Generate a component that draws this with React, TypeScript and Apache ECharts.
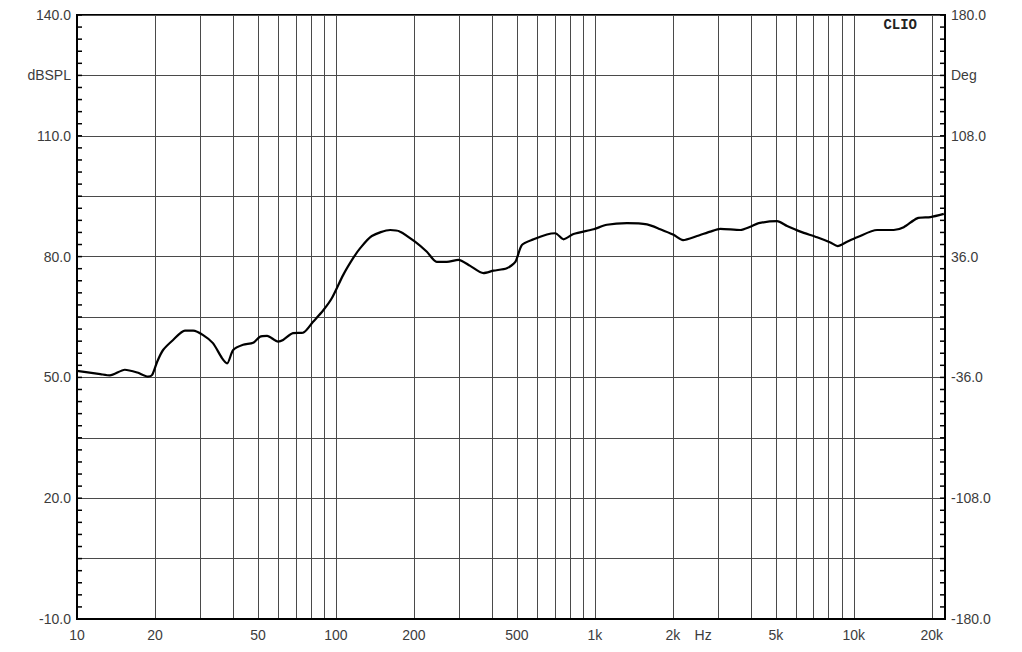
import React, { useEffect, useRef } from "react";
import * as echarts from "echarts";

// Frequency response (Hz, dBSPL)
const freqHz = [
  10, 12.3, 13.4, 15.3, 17.1, 18.8, 19.5, 20.4, 21.5, 23.5, 26.1, 28.1, 30.7, 33.5, 36.3, 38.0,
  40.1, 43.8, 47.9, 50.9, 54.2, 59.8, 62.5, 68.3, 74.7, 81.6, 89.2, 96.5, 106.6, 116.5, 124.1,
  137.6, 162, 177, 202, 224.5, 245, 268, 297, 330, 371, 406, 457, 493, 523, 580, 653, 703, 757,
  827, 989, 1113, 1330, 1590, 1789, 2014, 2190, 2480, 2792, 3052, 3646, 3986, 4291, 5053, 5524,
  6220, 7215, 8121, 8665, 9422, 10300, 12300, 14260, 15590, 17560, 19770, 22260,
];
const splDb = [
  51.6, 50.8, 50.5, 51.9, 51.2, 50.2, 50.6, 53.9, 56.8, 59.3, 61.6, 61.6, 60.5, 58.5, 54.8, 53.5,
  56.8, 58.1, 58.6, 60.1, 60.3, 58.9, 59.3, 61.0, 61.1, 63.8, 66.6, 69.7, 75.4, 79.6, 82.1,
  85.1, 86.6, 86.2, 83.7, 81.2, 78.7, 78.7, 79.2, 77.7, 75.9, 76.5, 77.1, 78.7, 82.9, 84.3, 85.5,
  85.8, 84.3, 85.6, 86.8, 87.9, 88.3, 88.0, 86.8, 85.4, 84.1, 85.1, 86.2, 86.9, 86.6, 87.4, 88.3,
  88.8, 87.6, 86.2, 84.8, 83.5, 82.6, 83.7, 84.8, 86.6, 86.6, 87.3, 89.5, 89.8, 90.6,
];

// Axis definitions
const freqMin = 10;
const freqMax = 22500;
const freqGrid = [
  10, 20, 30, 40, 50, 60, 70, 80, 90, 100, 200, 300, 400, 500, 600, 700, 800, 900, 1000, 2000,
  3000, 4000, 5000, 6000, 7000, 8000, 9000, 10000, 20000,
];
const freqLabels = [10, 20, 50, 100, 200, 500, 1000, 2000, 5000, 10000, 20000];
const freqLabelText = ["10", "20", "50", "100", "200", "500", "1k", "2k", "5k", "10k", "20k"];
const hzLabelFreq = 2620;
const hzLabelText = "Hz";

const dbMin = -10;
const dbMax = 140;
const dbLabels = [-10, 20, 50, 80, 110, 140];
const dbUnitAt = 125;
const dbUnitText = "dBSPL";
const dbMinorStep = 3;

const degMin = -180;
const degMax = 180;
const degGridStep = 36;
const degLabels = [-180, -108, -36, 36, 108, 180];
const degUnitAt = 144;
const degUnitText = "Deg";

const brandText = "CLIO";

export default function App() {
  const ref = useRef<HTMLDivElement>(null);

  useEffect(() => {
    if (!ref.current) return;
    const chart = echarts.init(ref.current, undefined, { renderer: "svg" });
    const lg = (f: number) => Math.log10(f);
    const dbTicks: number[] = [];
    for (let v = dbMin; v <= dbMax + 1e-9; v += dbMinorStep) dbTicks.push(v);

    const labelColor = "#3c3c3c";
    const font = "'Liberation Sans', Arial, sans-serif";
    const xLo = lg(freqMin);
    const xHi = lg(freqMax);

    const xLabelValues = [...freqLabels.map(lg), lg(hzLabelFreq)];
    const xFormatter = (v: number) => {
      if (Math.abs(v - lg(hzLabelFreq)) < 1e-6) return hzLabelText;
      for (let i = 0; i < freqLabels.length; i++) {
        if (Math.abs(v - lg(freqLabels[i])) < 1e-6) return freqLabelText[i];
      }
      return "";
    };

    const frameLine = { show: true, onZero: false, lineStyle: { color: "#000", width: 2 } };
    const tickLen = 5;

    chart.setOption({
      animation: false,
      backgroundColor: "#ffffff",
      grid: {
        left: 77,
        right: 77,
        top: 15,
        bottom: 33,
        containLabel: false,
        show: true,
        borderColor: "#000",
        borderWidth: 2,
        backgroundColor: "transparent",
      },
      xAxis: {
        type: "value",
        min: xLo,
        max: xHi,
        axisLine: frameLine,
        axisTick: { show: true, length: 0, customValues: freqGrid.map(lg) },
        splitLine: { show: true, lineStyle: { color: "#4a4a4a", width: 1 } },
        axisLabel: {
          customValues: xLabelValues,
          formatter: xFormatter,
          color: labelColor,
          fontFamily: font,
          fontSize: 14,
          margin: 9,
        },
      },
      yAxis: [
        {
          type: "value",
          position: "left",
          min: dbMin,
          max: dbMax,
          axisLine: frameLine,
          axisTick: { show: false },
          splitLine: { show: false },
          axisLabel: {
            customValues: [...dbLabels, dbUnitAt],
            formatter: (v: number) => (Math.abs(v - dbUnitAt) < 1e-6 ? dbUnitText : v.toFixed(1)),
            color: labelColor,
            fontFamily: font,
            fontSize: 14,
            margin: 6,
          },
        },
        {
          type: "value",
          position: "right",
          min: degMin,
          max: degMax,
          interval: degGridStep,
          axisLine: frameLine,
          axisTick: { show: false },
          splitLine: { show: true, lineStyle: { color: "#4a4a4a", width: 1 } },
          axisLabel: {
            customValues: [...degLabels, degUnitAt],
            formatter: (v: number) => (Math.abs(v - degUnitAt) < 1e-6 ? degUnitText : v.toFixed(1)),
            color: labelColor,
            fontFamily: font,
            fontSize: 14,
            margin: 6,
          },
        },
      ],
      graphic: [
        {
          type: "text",
          right: 105,
          top: 18,
          style: {
            text: brandText,
            fill: "#222",
            font: "bold 14px 'Liberation Mono', 'Courier New', monospace",
          },
        },
      ],
      series: [
        {
          type: "custom",
          yAxisIndex: 0,
          silent: true,
          clip: false,
          z: 4,
          data: dbTicks.map((v) => [xLo, v]),
          encode: { x: 0, y: 1 },
          renderItem: (_params: any, api: any) => {
            const l = api.coord([xLo, api.value(1)]);
            const r = api.coord([xHi, api.value(1)]);
            const st = { stroke: "#000", lineWidth: 1.5 };
            return {
              type: "group",
              children: [
                { type: "line", shape: { x1: l[0], y1: l[1], x2: l[0] + tickLen, y2: l[1] }, style: st },
                { type: "line", shape: { x1: r[0] - tickLen, y1: r[1], x2: r[0], y2: r[1] }, style: st },
              ],
            };
          },
        },
        {
          type: "line",
          yAxisIndex: 0,
          data: freqHz.map((f, i) => [lg(f), splDb[i]]),
          showSymbol: false,
          smooth: 0.25,
          lineStyle: { color: "#000", width: 2.2 },
          z: 5,
        },
      ],
    });

    return () => chart.dispose();
  }, []);

  return (
    <div
      ref={ref}
      style={{ position: "fixed", left: 0, top: 0, width: 1022, height: 652 }}
    />
  );
}
